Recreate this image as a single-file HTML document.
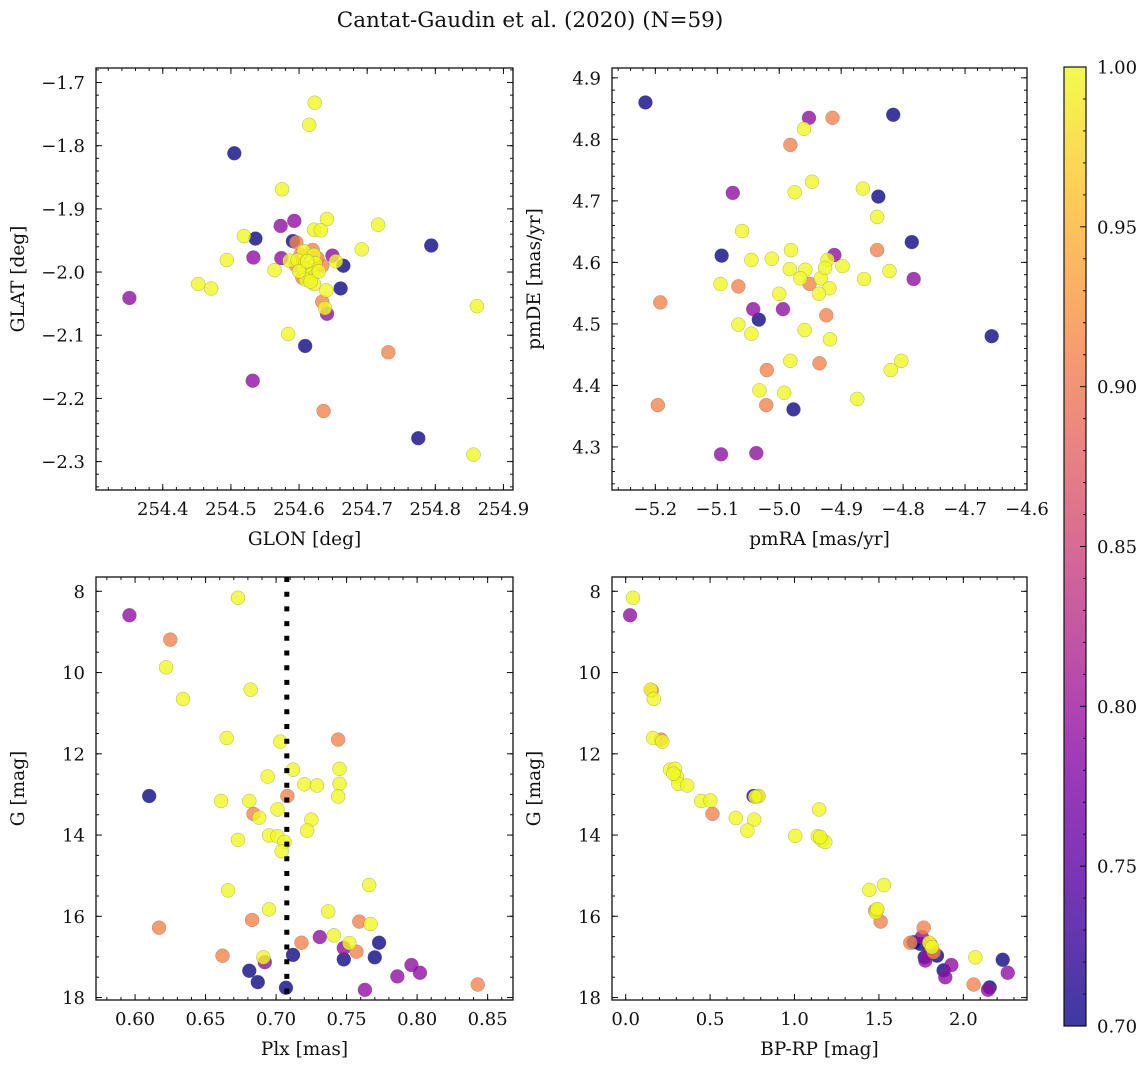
<!DOCTYPE html>
<html><head><meta charset="utf-8"><style>
body{margin:0;background:#fff}
svg text{font-family:"DejaVu Serif","Liberation Serif",serif;fill:#111}
</style></head><body>
<svg id="fig" width="1148" height="1067" viewBox="0 0 1148 1067" xmlns="http://www.w3.org/2000/svg">
<defs>
<linearGradient id="cbg" x1="0" y1="1" x2="0" y2="0"></linearGradient>
</defs>
<text x="530" y="27" font-size="21.5" text-anchor="middle">Cantat-Gaudin et al. (2020) (N=59)</text>
</svg>
<script>
// ---- data (groups: 8 low-prob, 8 mid, 11 high, 32 members) ----
const prob = [0.70,0.70,0.70,0.70,0.70,0.70,0.70,0.70,
 0.79,0.79,0.79,0.79,0.79,0.79,0.79,0.79,
 0.91,0.91,0.91,0.91,0.91,0.91,0.91,0.91,0.91,0.91,0.91,
 1,1,1,1,1,1,1,1,1,1,1,1,1,1,1,1,1,1,1,1,1,1,1,1,1,1,1,1,1,1,1,1];
const glon = [254.505,254.536,254.591,254.665,254.661,254.609,254.775,254.794,
 254.593,254.573,254.649,254.533,254.574,254.351,254.641,254.532,
 254.596,254.620,254.634,254.605,254.634,254.731,254.636,254.602,254.614,254.595,254.627,
 254.623,254.615,254.575,254.641,254.622,254.632,254.716,254.519,254.692,254.607,254.622,254.494,254.586,254.598,254.654,254.624,254.564,254.607,254.619,254.610,254.622,254.452,254.471,254.640,254.638,254.861,254.584,254.856,254.617,254.600,254.612,254.629];
const glat = [-1.812,-1.947,-1.951,-1.990,-2.026,-2.117,-2.263,-1.958,
 -1.919,-1.927,-1.974,-1.977,-1.978,-2.041,-2.066,-2.172,
 -1.953,-1.965,-1.990,-2.009,-2.047,-2.127,-2.220,-1.973,-1.994,-1.989,-1.978,
 -1.732,-1.767,-1.869,-1.916,-1.933,-1.934,-1.925,-1.943,-1.964,-1.967,-1.973,-1.981,-1.982,-1.981,-1.983,-1.986,-1.997,-1.994,-2.003,-2.012,-2.019,-2.019,-2.026,-2.029,-2.057,-2.054,-2.098,-2.289,-2.015,-1.999,-1.983,-1.999];
const pmra = [-5.216,-4.816,-4.840,-4.786,-5.093,-5.033,-4.657,-4.977,
 -4.952,-5.075,-4.911,-4.783,-5.042,-4.994,-5.094,-5.037,
 -4.914,-4.982,-4.842,-5.066,-5.192,-4.951,-4.924,-5.020,-4.935,-5.196,-5.021,
 -4.960,-4.947,-4.975,-4.865,-4.842,-5.060,-4.981,-5.045,-5.012,-4.922,-4.898,-4.983,-4.958,-4.966,-4.933,-4.863,-4.822,-5.095,-4.919,-4.936,-5.000,-5.066,-5.045,-4.959,-4.918,-4.982,-4.803,-4.820,-5.032,-4.992,-4.874,-4.926];
const pmde = [4.860,4.840,4.707,4.633,4.611,4.507,4.480,4.361,
 4.835,4.713,4.612,4.573,4.524,4.524,4.288,4.290,
 4.835,4.791,4.620,4.561,4.535,4.565,4.514,4.425,4.436,4.368,4.368,
 4.817,4.731,4.714,4.720,4.674,4.651,4.620,4.604,4.606,4.604,4.594,4.589,4.588,4.574,4.574,4.573,4.586,4.565,4.558,4.549,4.549,4.499,4.484,4.490,4.475,4.440,4.440,4.425,4.392,4.388,4.378,4.591];
const plx = [0.610,0.712,0.681,0.687,0.707,0.748,0.770,0.773,
 0.596,0.692,0.731,0.748,0.763,0.786,0.796,0.802,
 0.625,0.744,0.708,0.684,0.683,0.617,0.662,0.718,0.759,0.757,0.843,
 0.673,0.622,0.634,0.682,0.665,0.703,0.712,0.694,0.720,0.729,0.745,0.745,0.744,0.661,0.681,0.701,0.688,0.725,0.722,0.695,0.701,0.673,0.706,0.704,0.666,0.766,0.695,0.737,0.767,0.741,0.752,0.691];
const gmag = [13.04,16.95,17.34,17.62,17.76,17.06,17.01,16.65,
 8.59,17.13,16.51,16.78,17.81,17.48,17.20,17.39,
 9.19,11.65,13.04,13.48,16.09,16.28,16.97,16.65,16.13,16.87,17.68,
 8.16,9.87,10.65,10.42,11.61,11.70,12.39,12.56,12.75,12.78,12.37,12.74,13.05,13.16,13.16,13.37,13.57,13.62,13.89,14.01,14.03,14.12,14.17,14.40,15.36,15.23,15.83,15.88,16.19,16.47,16.66,17.01];
const cmdBprp = [0.757,1.706,1.771,1.844,1.883,2.233,2.156,1.745,
 0.026,1.755,1.775,1.929,1.893,2.263,2.146,1.794,
 0.209,0.514,1.510,1.765,1.686,1.824,2.061,0.783,1.804,1.478,0.154,
 0.043,0.148,0.166,0.162,0.217,0.263,0.292,0.304,0.312,0.364,0.447,0.502,0.787,0.652,0.761,0.721,1.004,1.146,1.138,1.162,1.182,1.443,1.530,1.488,1.482,1.798,2.071,0.283,0.767,1.490,1.152,1.814];
const cmdG = [13.04,16.64,17.01,16.97,17.33,17.07,17.75,16.68,
 8.59,16.51,17.09,17.20,17.50,17.39,17.81,16.92,
 11.65,13.48,16.13,16.28,16.65,16.88,17.68,13.04,16.68,15.86,10.44,
 8.16,10.42,10.65,11.61,11.70,12.39,12.37,12.56,12.74,12.78,13.16,13.15,13.04,13.58,13.62,13.89,14.02,13.37,14.03,14.13,14.17,15.35,15.23,15.84,15.90,16.65,17.01,12.49,13.06,15.82,14.05,16.76];
const plxRef = 0.7076;
const cbTicks = [0.70,0.75,0.80,0.85,0.90,0.95,1.00];

const plasma=[[13,8,135],[84,2,163],[139,10,165],[185,50,137],[219,92,104],[244,136,73],[254,188,43],[240,249,33]];
function cmap(t){t=Math.max(0,Math.min(1,t));const f=t*(plasma.length-1),i=Math.min(Math.floor(f),plasma.length-2),r=f-i;
 const c=plasma[i].map((v,k)=>Math.round(v+(plasma[i+1][k]-v)*r));return `rgb(${c[0]},${c[1]},${c[2]})`;}
const vmin=0.70,vmax=1.00;
const TFS=18, LFS=18.5;

const NS='http://www.w3.org/2000/svg';
const svg=document.getElementById('fig');
function el(tag,attrs,parent){const e=document.createElementNS(NS,tag);for(const k in attrs)e.setAttribute(k,attrs[k]);(parent||svg).appendChild(e);return e;}
function fmt(v,d){return (v<0?'\u2212':'')+Math.abs(v).toFixed(d);}

function panel(cfg){
 const g=el('g',{});
 
 
 const {x0,x1,y0,y1,xl,yl}=cfg;
 const sx=v=>x0+(v-xl[0])/(xl[1]-xl[0])*(x1-x0);
 const sy=v=>y1-(v-yl[0])/(yl[1]-yl[0])*(y1-y0);
 const cid='clip'+cfg.name;
 const cp=el('clipPath',{id:cid},g);el('rect',{x:x0,y:y0,width:x1-x0,height:y1-y0},cp);
 const pts=el('g',{'clip-path':`url(#${cid})`},g);
 
 
 if(cfg.vline!==undefined){
  const ln=el('line',{x1:sx(cfg.vline),x2:sx(cfg.vline),y1:y0,y2:y1,stroke:'#000','stroke-width':5,'stroke-dasharray':'5 9.7'},g);
  
  
 }
 for(let i=0;i<cfg.xs.length;i++){
  const c=el('circle',{cx:sx(cfg.xs[i]),cy:sy(cfg.ys[i]),r:7,fill:cmap((prob[i]-vmin)/(vmax-vmin)),'fill-opacity':0.8,stroke:'#666','stroke-opacity':0.5,'stroke-width':0.5},pts);
  
  
 }
 el('rect',{x:x0,y:y0,width:x1-x0,height:y1-y0,fill:'none',stroke:'#111','stroke-width':1.3},g);
 const eps=1e-9;
 function ticksX(step,len,lab,dec){
  const s=Math.ceil((xl[0]-eps)/step);
  for(let k=s;k*step<=xl[1]+eps;k++){const v=k*step,x=sx(v);
   el('line',{x1:x,x2:x,y1:y1,y2:y1-len,stroke:'#111','stroke-width':1},g);
   el('line',{x1:x,x2:x,y1:y0,y2:y0+len,stroke:'#111','stroke-width':1},g);
   if(lab){const t=el('text',{x:x,y:y1+25,'font-size':TFS,'text-anchor':'middle'},g);t.textContent=fmt(v,dec);
    }
  }}
 function ticksY(step,len,lab,dec){
  const s=Math.ceil((yl[0]-eps)/step);
  for(let k=s;k*step<=yl[1]+eps;k++){const v=k*step,y=sy(v);
   el('line',{x1:x0,x2:x0+len,y1:y,y2:y,stroke:'#111','stroke-width':1},g);
   el('line',{x1:x1,x2:x1-len,y1:y,y2:y,stroke:'#111','stroke-width':1},g);
   if(lab){const t=el('text',{x:x0-11,y:y+6.5,'font-size':TFS,'text-anchor':'end'},g);
    t.textContent=cfg.negY?Math.abs(v).toFixed(dec):fmt(v,dec);
    }
  }}
 ticksX(cfg.xminor,3,false);ticksX(cfg.xmajor,6,true,cfg.xdec);
 ticksY(cfg.yminor,3,false);ticksY(cfg.ymajor,6,true,cfg.ydec);
 const xt=el('text',{x:(x0+x1)/2,y:y1+55,'font-size':LFS,'text-anchor':'middle'},g);xt.textContent=cfg.xlabel;
 
 const yx=x0-72,yc=(y0+y1)/2;
 const yt=el('text',{x:yx,y:yc,'font-size':LFS,'text-anchor':'middle',transform:`rotate(-90 ${yx} ${yc})`},g);yt.textContent=cfg.ylabel;
 
}

panel({name:'glon-glat-panel',x0:96,x1:513,y0:68,y1:490,xl:[254.302,254.914],yl:[-2.345,-1.677],
 xs:glon,ys:glat,xmajor:0.1,xminor:0.02,ymajor:0.1,yminor:0.02,xdec:1,ydec:1,xlabel:'GLON [deg]',ylabel:'GLAT [deg]'});
panel({name:'proper-motion-panel',x0:612,x1:1027,y0:68,y1:490,xl:[-5.270,-4.600],yl:[4.230,4.916],
 xs:pmra,ys:pmde,xmajor:0.1,xminor:0.02,ymajor:0.1,yminor:0.02,xdec:1,ydec:1,xlabel:'pmRA [mas/yr]',ylabel:'pmDE [mas/yr]'});
panel({name:'parallax-mag-panel',x0:96,x1:513,y0:577,y1:1000,xl:[0.5723,0.868],yl:[-18.06,-7.648],
 xs:plx,ys:gmag.map(v=>-v),xmajor:0.05,xminor:0.01,ymajor:2,yminor:0.5,xdec:2,ydec:0,xlabel:'Plx [mas]',ylabel:'G [mag]',vline:plxRef,negY:true});
panel({name:'cmd-panel',x0:612,x1:1027,y0:577,y1:1000,xl:[-0.081,2.377],yl:[-18.06,-7.648],
 xs:cmdBprp,ys:cmdG.map(v=>-v),xmajor:0.5,xminor:0.1,ymajor:2,yminor:0.5,xdec:1,ydec:0,xlabel:'BP-RP [mag]',ylabel:'G [mag]',negY:true});

const cb=el('g',{});


const cbx=1064,cbw=22,cby0=67,cby1=1026;
const grad=document.getElementById('cbg');
for(let k=0;k<=20;k++){el('stop',{offset:k/20,'stop-color':cmap(k/20)},grad);}
el('rect',{x:cbx,y:cby0,width:cbw,height:cby1-cby0,fill:'url(#cbg)','fill-opacity':0.8},cb);
el('rect',{x:cbx,y:cby0,width:cbw,height:cby1-cby0,fill:'none',stroke:'#111','stroke-width':1.2},cb);
const cy=v=>cby1-(v-vmin)/(vmax-vmin)*(cby1-cby0);
for(let k=70;k<=100;k++){const v=k/100,y=cy(v),maj=(k%5===0);
 el('line',{x1:cbx+cbw,x2:cbx+cbw-(maj?6:3),y1:y,y2:y,stroke:'#111','stroke-width':1},cb);}
cbTicks.forEach(v=>{const t=el('text',{x:cbx+cbw+11,y:cy(v)+6.5,'font-size':TFS},cb);t.textContent=v.toFixed(2);
 });
</script>
</body></html>
